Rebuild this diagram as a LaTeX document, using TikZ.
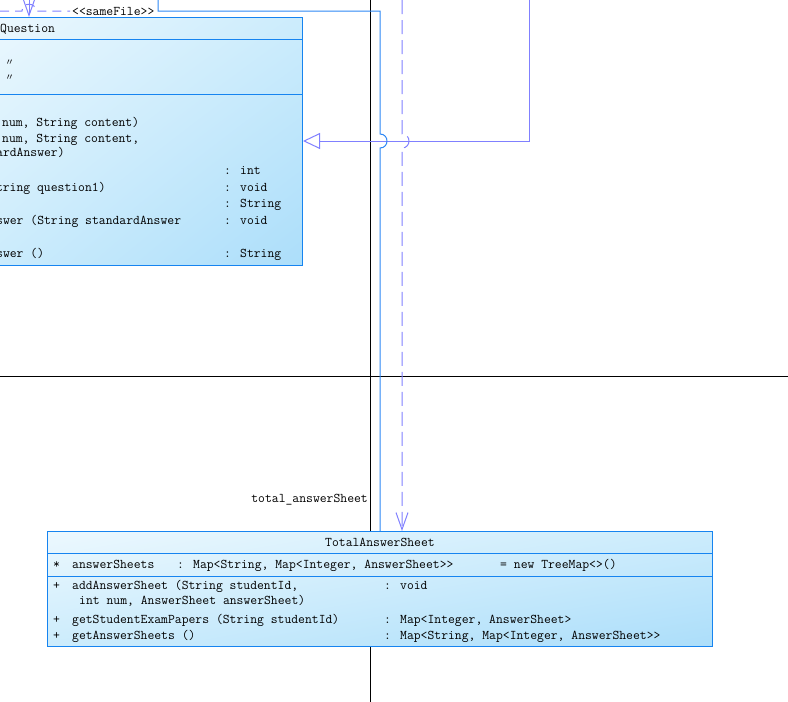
\documentclass[tikz,border=0pt]{standalone}
\usepackage{fontspec}
\newfontfamily\cjkf{Noto Sans CJK SC}
\usetikzlibrary{arrows.meta,shadings}
\definecolor{boxline}{RGB}{22,132,240}
\definecolor{assocline}{RGB}{45,135,245}
\definecolor{purpline}{RGB}{128,128,255}
\definecolor{shA}{RGB}{236,248,254}
\definecolor{shB}{RGB}{204,236,252}
\definecolor{shC}{RGB}{172,222,250}
\tikzset{
  umlbox/.style={draw=boxline, line width=1pt, rectangle, inner sep=0pt, shade,
    upper left=shA, upper right=shB, lower left=shB, lower right=shC},
  divider/.style={draw=boxline, line width=1pt},
  txt/.style={inner sep=0pt, anchor=west, font=\ttfamily\fontsize{13.3}{13.3}\selectfont,
    text height=8.2pt, text depth=0pt},
  ditto/.style={inner sep=0pt, anchor=west, font=\cjkf\fontsize{9}{9}\selectfont},
  purp/.style={draw=purpline, line width=1pt},
  purpdash/.style={draw=purpline, line width=1pt, dash pattern=on 14pt off 6pt},
  assoc/.style={draw=assocline, line width=1pt},
  frameline/.style={draw=black, line width=1pt},
  vtip/.style={-{Straight Barb[length=17pt,width=12pt]}},
  gentip/.style={-{Triangle[open,length=17pt,width=16pt,fill=white]}}
}
\begin{document}
\begin{tikzpicture}[x=1pt,y=-1pt]
\useasboundingbox (0,0) rectangle (788,702);
% frame lines
\coordinate (vtop) at (370,0);
\coordinate (vbot) at (370,702);
\coordinate (hleft) at (0,376);
\coordinate (hright) at (788,376);
\draw[frameline] (vtop) -- (vbot);
\draw[frameline] (hleft) -- (hright);

% class boxes
\node[umlbox, minimum width=317pt, minimum height=248pt, anchor=north west] (question) at (-15,17) {};
\node[umlbox, minimum width=665pt, minimum height=115pt, anchor=north west] (total) at (47,531) {};

\draw[divider] (question.west |- 0,39.5) -- (question.east |- 0,39.5);
\draw[divider] (question.west |- 0,94.5) -- (question.east |- 0,94.5);
\draw[divider] (total.west |- 0,553) -- (total.east |- 0,553);
\draw[divider] (total.west |- 0,576) -- (total.east |- 0,576);

% Question texts
\node[txt] (qname) at (0,28) {Question};
\node[ditto] (qd1) at (5,63) {〃};
\node[ditto] (qd2) at (5,78) {〃};
\node[txt] (qm1) at (2,122) {num, String content)};
\node[txt] (qm2) at (2,138) {num, String content,};
\node[txt] (qm3) at (-4,152) {ardAnswer)};
\node[txt] (qm4t) at (224,170) {: int};
\node[txt] (qm5) at (-11,187) {String question1)};
\node[txt] (qm5t) at (224,187) {: void};
\node[txt] (qm6t) at (224,203) {: String};
\node[txt] (qm7) at (-4,220) {swer (String standardAnswer};
\node[txt] (qm7t) at (224,220) {: void};
\node[txt] (qm8) at (-4,253) {swer ()};
\node[txt] (qm8t) at (224,253) {: String};

% TotalAnswerSheet texts
\node[txt, anchor=center] (tname) at (380,542) {TotalAnswerSheet};
\node[txt] (ta1s) at (53,564) {*};
\node[txt] (ta1) at (72,564) {answerSheets};
\node[txt] (ta1t) at (177,564) {: Map<String, Map<Integer, AnswerSheet>>};
\node[txt] (ta1v) at (500,564) {= new TreeMap<>()};
\node[txt] (tm1s) at (53,585) {+};
\node[txt] (tm1) at (72,585) {addAnswerSheet (String studentId,};
\node[txt] (tm1b) at (79,600) {int num, AnswerSheet answerSheet)};
\node[txt] (tm1t) at (384,585) {: void};
\node[txt] (tm2s) at (53,619) {+};
\node[txt] (tm2) at (72,619) {getStudentExamPapers (String studentId)};
\node[txt] (tm2t) at (384,619) {: Map<Integer, AnswerSheet>};
\node[txt] (tm3s) at (53,635) {+};
\node[txt] (tm3) at (72,635) {getAnswerSheets ()};
\node[txt] (tm3t) at (384,635) {: Map<String, Map<Integer, AnswerSheet>>};

% generalization into Question
\coordinate (genstart) at (529,0);
\draw[purp, gentip] (genstart) |- (question.east |- 0,141);

% association to TotalAnswerSheet (with line hop)
\coordinate (assocstart) at (158,0);
\draw[assoc] (assocstart) |- (380,11) -- (380,134)
  .. controls (389.3,134) and (389.3,148) .. (380,148) -- (total.north -| 380,0);
\node[txt, anchor=east] (rolelabel) at (368,498) {total\_answerSheet};

% dependency to TotalAnswerSheet (with line hop)
\coordinate (depstart) at (402,0);
\draw[purpdash, vtip] (depstart) -- (402,134)
  .. controls (411.3,134) and (411.3,148) .. (402,148) -- (total.north -| 402,0);

% top-left dependency into Question
\coordinate (qdepstart) at (29,0);
\draw[purp, vtip] (qdepstart) -- (question.north -| 29,0);
\coordinate (sfA) at (0,11);
\coordinate (sfB) at (70,11);
\draw[purpdash, dash pattern=on 9pt off 6pt] (sfA) -- (22,11)
  .. controls (22,2) and (36,2) .. (36,11) -- (sfB);
\node[txt] (samefile) at (72,11) {<<sameFile>>};
\end{tikzpicture}
\end{document}
